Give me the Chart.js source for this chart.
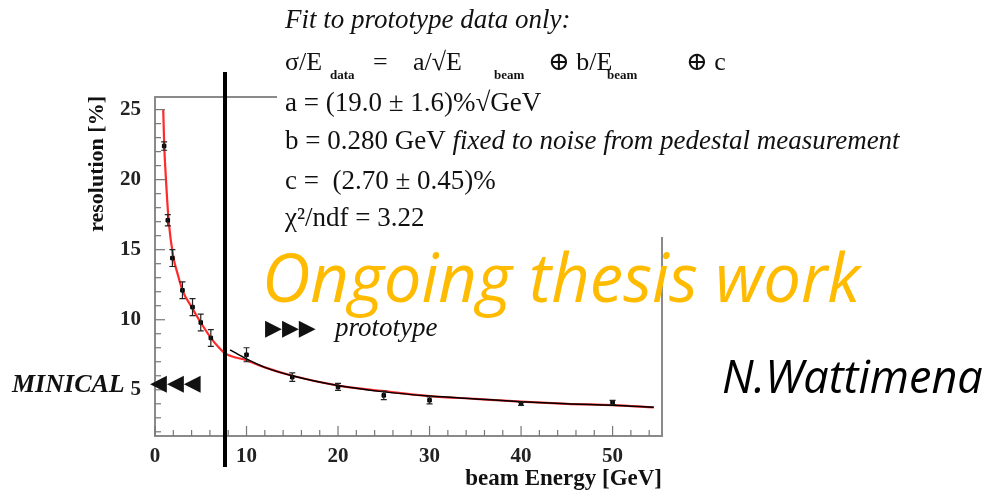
<!DOCTYPE html>
<html>
<head>
<meta charset="utf-8">
<script src="https://cdn.jsdelivr.net/npm/chart.js@4/dist/chart.umd.min.js"></script>
<style>
html, body { margin: 0; padding: 0; background: #fff; }
</style>
</head>
<body>
<canvas id="myChart" width="988" height="491"></canvas>
<script>
// MINICAL points (left of the cut)
const minicalEnergy = [1.0, 1.4, 1.9, 3.0, 4.1, 5.0, 6.1];
const minicalRes    = [22.4, 17.1, 14.4, 12.1, 10.9, 9.8, 8.7];
const minicalErr    = [0.3, 0.4, 0.6, 0.6, 0.6, 0.6, 0.6];

// prototype points
const protoEnergy = [10, 15, 20, 25, 30, 40, 50];
const protoRes    = [7.5, 5.9, 5.2, 4.6, 4.25, 4.0, 4.1];
const protoErr    = [0.5, 0.3, 0.25, 0.3, 0.25, 0.12, 0.15];

// red curve
const redEnergy = [0.9, 1.0, 1.2, 1.5, 2, 2.5, 3, 4, 5, 6, 7, 7.65, 10, 12, 15, 20, 25, 30, 35, 40, 45, 50, 54.5];
const redRes    = [25, 22.6, 20, 17, 14.5, 13.2, 12.1, 10.9, 9.8, 8.8, 8.0, 7.6, 7.1, 6.6, 6.0, 5.3, 4.9, 4.55, 4.35, 4.15, 4.0, 3.9, 3.75];

// black fit curve (prototype only)
const fitEnergy = [8.2, 10, 12, 15, 20, 25, 30, 35, 40, 45, 50, 54.5];
const fitRes    = [7.85, 7.2, 6.6, 6.0, 5.3, 4.85, 4.55, 4.35, 4.15, 4.0, 3.9, 3.75];

const cutEnergy = 7.65;
const xLabels = [0, 10, 20, 30, 40, 50];
const yLabels = [5, 10, 15, 20, 25];

function pts(xs, ys)
{
    return xs.map((x, i) => ({x: x, y: ys[i]}));
}

// integer tick positions between the axis limits
function intTicks(s)
{
    s.ticks = [];
    for (let v = Math.ceil(s.min); v <= Math.floor(s.max); v += s.options.ticks.stepSize)
        s.ticks.push({value: v});
}

const serif = '"Liberation Serif", "DejaVu Serif", serif';

// inward ticks, frame, error bars, cut line and the slide texts
const decor =
{
    id: 'decor',
    afterDatasetsDraw(chart)
    {
        const ctx = chart.ctx;
        const xs = chart.scales.x, ys = chart.scales.y;
        const a = chart.chartArea;
        ctx.save();

        // error bars
        ctx.strokeStyle = '#222';
        ctx.lineWidth = 1.2;
        const bars = [[minicalEnergy, minicalRes, minicalErr], [protoEnergy, protoRes, protoErr]];
        bars.forEach(b =>
        {
            b[0].forEach((e, i) =>
            {
                const px = xs.getPixelForValue(e);
                const y1 = ys.getPixelForValue(b[1][i] + b[2][i]);
                const y2 = ys.getPixelForValue(b[1][i] - b[2][i]);
                ctx.beginPath();
                ctx.moveTo(px, y1); ctx.lineTo(px, y2);
                ctx.moveTo(px - 3, y1); ctx.lineTo(px + 3, y1);
                ctx.moveTo(px - 3, y2); ctx.lineTo(px + 3, y2);
                ctx.stroke();
            });
        });

        // frame
        ctx.strokeStyle = '#8a8a8a';
        ctx.lineWidth = 2;
        ctx.strokeRect(a.left, a.top, a.right - a.left, a.bottom - a.top);

        // inward ticks
        ctx.lineWidth = 1.2;
        ctx.strokeStyle = '#777';
        xs.ticks.forEach(t =>
        {
            const px = xs.getPixelForValue(t.value);
            const len = xLabels.includes(t.value) ? 10 : 6;
            ctx.beginPath(); ctx.moveTo(px, a.bottom); ctx.lineTo(px, a.bottom - len); ctx.stroke();
        });
        ys.ticks.forEach(t =>
        {
            const py = ys.getPixelForValue(t.value);
            const len = yLabels.includes(t.value) ? 10 : 6;
            ctx.beginPath(); ctx.moveTo(a.left, py); ctx.lineTo(a.left + len, py); ctx.stroke();
        });

        // white box of the fit text
        ctx.fillStyle = '#fff';
        ctx.fillRect(277, 0, 711, 237);

        // cut line
        const cx = xs.getPixelForValue(cutEnergy);
        ctx.strokeStyle = '#000';
        ctx.lineWidth = 4;
        ctx.beginPath(); ctx.moveTo(cx, 72); ctx.lineTo(cx, 467); ctx.stroke();

        // fit text
        ctx.fillStyle = '#111';
        ctx.textBaseline = 'alphabetic';
        ctx.textAlign = 'left';
        ctx.font = 'italic 27px ' + serif;
        ctx.fillText('Fit to prototype data only:', 285, 28);
        ctx.font = '26px ' + serif;
        ctx.fillText('σ/E', 285, 70);
        ctx.fillText('=', 373, 70);
        ctx.fillText('a/√E', 413, 70);
        ctx.fillText('⊕ b/E', 548, 70);
        ctx.fillText('⊕ c', 686, 70);
        ctx.font = 'bold 13px ' + serif;
        ctx.fillText('data', 330, 79);
        ctx.fillText('beam', 494, 79);
        ctx.fillText('beam', 607, 79);
        ctx.font = '27px ' + serif;
        ctx.fillText('a = (19.0 ± 1.6)%√GeV', 285, 111);
        ctx.fillText('b = 0.280 GeV ', 285, 149);
        let w = ctx.measureText('b = 0.280 GeV ').width;
        ctx.font = 'italic 27px ' + serif;
        ctx.fillText('fixed to noise from pedestal measurement', 285 + w, 149);
        ctx.font = '27px ' + serif;
        ctx.fillText('c =  (2.70 ± 0.45)%', 285, 189);
        ctx.fillText('χ²/ndf = 3.22', 285, 226);

        // axis titles
        ctx.font = 'bold 23px ' + serif;
        ctx.textAlign = 'right';
        ctx.fillText('beam Energy [GeV]', 662, 485);
        ctx.save();
        ctx.translate(103, 96);
        ctx.rotate(-Math.PI / 2);
        ctx.font = 'bold 22px ' + serif;
        ctx.fillText('resolution [%]', 0, 0);
        ctx.restore();

        // markers
        ctx.textAlign = 'left';
        ctx.font = 'italic bold 26px ' + serif;
        ctx.fillText('MINICAL', 12, 392);
        ctx.font = '22px "DejaVu Sans", sans-serif';
        ctx.fillText('◀◀◀', 150, 390);
        ctx.fillText('▶▶▶', 265, 335);
        ctx.font = 'italic 27px ' + serif;
        ctx.fillText('prototype', 335, 336);

        // overlay notes
        ctx.fillStyle = '#ffbb00';
        ctx.font = 'italic 67px "Open Sans", sans-serif';
        ctx.fillText('Ongoing thesis work', 262, 302);
        ctx.fillStyle = '#000';
        ctx.font = 'italic 45px "Open Sans", sans-serif';
        ctx.fillText('N.Wattimena', 722, 393);

        ctx.restore();
    }
};

const myChart = document.getElementById('myChart').getContext('2d');

const chart_1 = new Chart(myChart,
{
    type: 'scatter',
    data:
    {
        datasets:
        [
            {
                label: 'curve',
                data: pts(redEnergy, redRes),
                showLine: true,
                borderColor: '#ff2a2a',
                borderWidth: 2.2,
                pointRadius: 0,
                cubicInterpolationMode: 'monotone',
                order: 4
            },
            {
                label: 'fit',
                data: pts(fitEnergy, fitRes),
                showLine: true,
                borderColor: '#000',
                borderWidth: 1.5,
                pointRadius: 0,
                cubicInterpolationMode: 'monotone',
                order: 3
            },
            {
                label: 'MINICAL',
                data: pts(minicalEnergy, minicalRes),
                pointStyle: 'rect',
                pointRadius: 2.5,
                backgroundColor: '#000',
                borderColor: '#000',
                order: 2
            },
            {
                label: 'prototype',
                data: pts(protoEnergy, protoRes),
                pointStyle: 'rect',
                pointRadius: 2.5,
                backgroundColor: '#000',
                borderColor: '#000',
                order: 1
            }
        ]
    },
    options:
    {
        responsive: false,
        animation: false,
        layout: { padding: { left: 115, right: 326, top: 97, bottom: 15 } },
        plugins:
        {
            legend: { display: false },
            tooltip: { enabled: false }
        },
        scales:
        {
            x:
            {
                type: 'linear', min: 0, max: 55.4,
                grid: { display: false }, border: { display: false },
                afterBuildTicks: intTicks,
                afterFit: s => { s.height = 40; },
                ticks:
                {
                    stepSize: 2, autoSkip: false, maxRotation: 0, padding: 0,
                    color: '#222', font: { family: serif, weight: 'bold', size: 21 },
                    callback: v => xLabels.includes(v) ? String(v) : ''
                }
            },
            y:
            {
                type: 'linear', min: 1.7, max: 25.9,
                grid: { display: false }, border: { display: false },
                afterBuildTicks: intTicks,
                afterFit: s => { s.width = 40; },
                ticks:
                {
                    stepSize: 1, autoSkip: false, padding: 6,
                    color: '#222', font: { family: serif, weight: 'bold', size: 21 },
                    callback: v => yLabels.includes(v) ? String(v) : ''
                }
            }
        }
    },
    plugins: [decor]
});
</script>
</body>
</html>
